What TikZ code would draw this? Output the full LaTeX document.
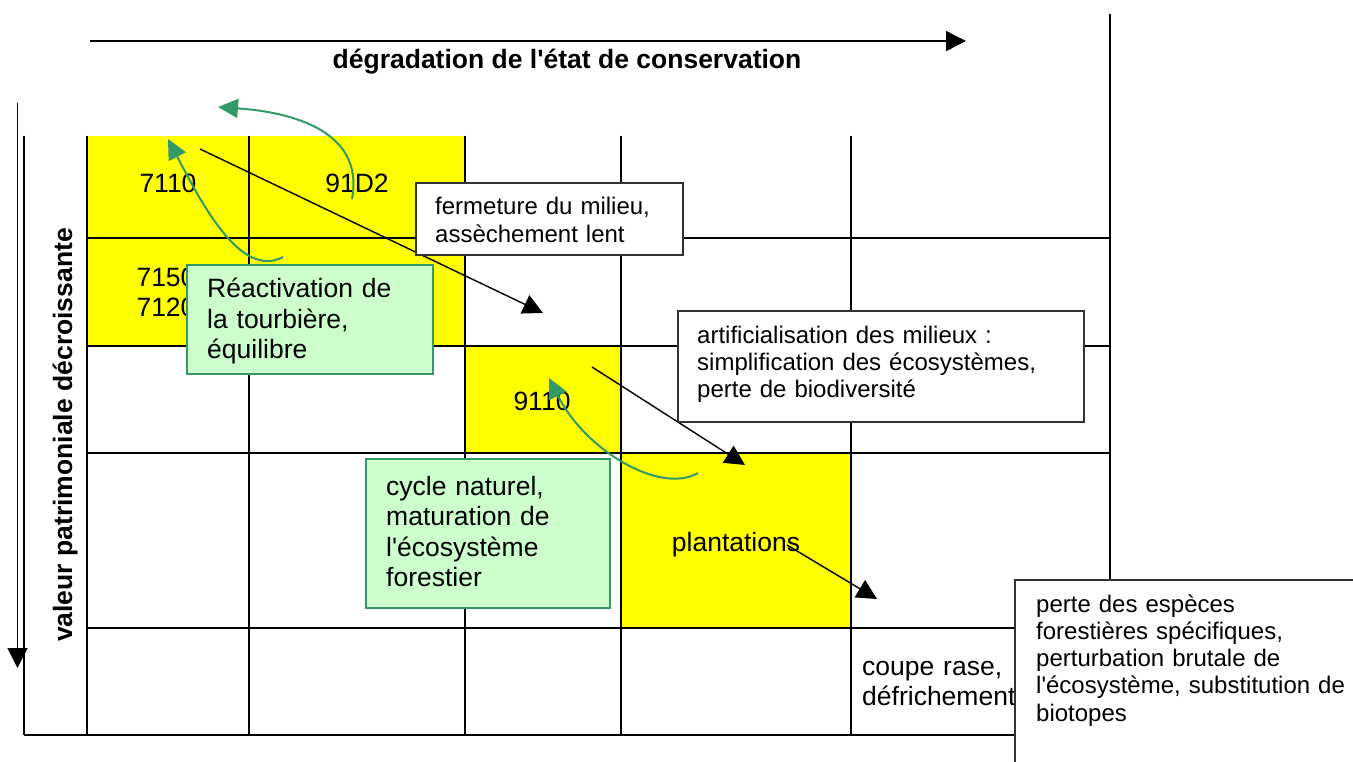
\documentclass[tikz,border=0pt]{standalone}
\usepackage{fontspec}
\setmainfont{Liberation Sans}[Ligatures=TeXOff]
\usetikzlibrary{arrows.meta}
\definecolor{cellyellow}{HTML}{FFFF00}
\definecolor{boxgreen}{HTML}{CCFFCC}
\definecolor{arrowgreen}{HTML}{339966}
\definecolor{boxgray}{HTML}{333333}
\begin{document}
\begin{tikzpicture}[x=1pt,y=-1pt,
  gridline/.style={line width=2.4pt, black},
  blackarrow/.style={line width=1.4pt, black, -{Triangle[length=20pt,width=20pt]}},
  axisarrow/.style={line width=1.4pt, black, -{Triangle[length=20pt,width=20pt]}},
  greenarrow/.style={line width=2pt, arrowgreen, -{Triangle[length=20pt,width=19pt]}},
  whitebox/.style={draw=boxgray, line width=2pt, fill=white, inner sep=0pt, anchor=north west},
  greenbox/.style={draw=arrowgreen, line width=2pt, fill=boxgreen, inner sep=0pt, anchor=north west},
  boxtext/.style={anchor=base west, inner sep=0pt, align=left, font=\fontsize{24}{27.3}\selectfont},
  bigboxtext/.style={anchor=base west, inner sep=0pt, align=left, font=\fontsize{26.5}{30.5}\selectfont},
  bigtext/.style={inner sep=0pt, font=\fontsize{26.5}{30}\selectfont},
  boldtext/.style={inner sep=0pt, font=\fontsize{26.5}{30}\selectfont\bfseries},
]
\useasboundingbox (0,0) rectangle (1353,762);
\clip (0,0) rectangle (1353,762);

% yellow cells
\fill[cellyellow] (87,136) rectangle (465,346);
\fill[cellyellow] (465,346) rectangle (621,453);
\fill[cellyellow] (621,453) rectangle (851,628);

% grid
\draw[gridline] (24,136) -- (24,735);
\foreach \gx in {87,249,465,621,851} { \draw[gridline] (\gx,136) -- (\gx,735); }
\draw[gridline] (1110,14) -- (1110,735);
\foreach \gy in {238,346,453,628} { \draw[gridline] (87,\gy) -- (1110,\gy); }
\draw[gridline] (24,735) -- (1110,735);

% axes
\coordinate (hstart) at (90,41);
\coordinate (hend) at (966,41);
\draw[axisarrow] (hstart) -- (hend);
\node[boldtext, anchor=base] (title) at (567,69) {dégradation de l'état de conservation};
\coordinate (vstart) at (17.5,103);
\coordinate (vend) at (17.5,668);
\draw[axisarrow] (vstart) -- (vend);
\node[boldtext, rotate=90, anchor=base] (ylabel) at (72,435) {valeur patrimoniale décroissante};

% cell labels
\node[bigtext, anchor=base] (c7110) at (168,193) {7110};
\node[bigtext, anchor=base] (c91D2) at (357,193) {91D2};
\node[bigtext, anchor=base, text width=80, align=center] (c7150) at (166,287) {7150\\7120};
\node[bigtext, anchor=base] (c9110) at (542,410) {9110};
\node[bigtext, anchor=base] (cplant) at (736,551) {plantations};
\node[bigtext, anchor=base west, text width=200, align=left] (ccoupe) at (862,675) {coupe rase,\\défrichement};

% green curved arrows (under boxes)
\coordinate (g1s) at (283,257);
\coordinate (g1e) at (168,139);
\draw[greenarrow] (g1s) .. controls (240,280) and (200,200) .. (g1e);
\coordinate (g2s) at (352,199);
\coordinate (g2e) at (218,107);
\draw[greenarrow] (g2s) .. controls (365,130) and (290,112) .. (g2e);

% black arrows
\coordinate (a1s) at (200,149);
\coordinate (a1e) at (543,313);
\draw[blackarrow] (a1s) -- (a1e);
\coordinate (a2s) at (592,367);
\coordinate (a2e) at (745,465);
\draw[blackarrow] (a2s) -- (a2e);
\coordinate (a3s) at (787,545);
\coordinate (a3e) at (877,599);
\draw[blackarrow] (a3s) -- (a3e);

% boxes
\node[whitebox, minimum width=267, minimum height=72] (bferm) at (415,182) {};
\node[boxtext, text width=250] (tferm) at (435,215) {fermeture du milieu,\\assèchement lent};
\node[whitebox, minimum width=406, minimum height=111] (bartif) at (677,310) {};
\node[boxtext, text width=380] (tartif) at (697,343) {artificialisation des milieux :\\simplification des écosystèmes,\\perte de biodiversité};
\node[greenbox, minimum width=246, minimum height=109] (breact) at (186,264) {};
\node[bigboxtext, text width=220] (treact) at (207,298) {Réactivation de\\la tourbière,\\équilibre};
\node[greenbox, minimum width=244, minimum height=149] (bcycle) at (365,458) {};
\node[bigboxtext, text width=220] (tcycle) at (386,495) {cycle naturel,\\maturation de\\l'écosystème\\forestier};

\coordinate (g3s) at (698,473);
\coordinate (g3e) at (549,378);
\draw[greenarrow] (g3s) .. controls (660,495) and (585,450) .. (g3e);

\node[whitebox, minimum width=400, minimum height=250] (bperte) at (1014,579) {};
\node[boxtext, text width=330] (tperte) at (1036,612) {perte des espèces\\forestières spécifiques,\\perturbation brutale de\\l'écosystème, substitution de\\biotopes};
\end{tikzpicture}
\end{document}
